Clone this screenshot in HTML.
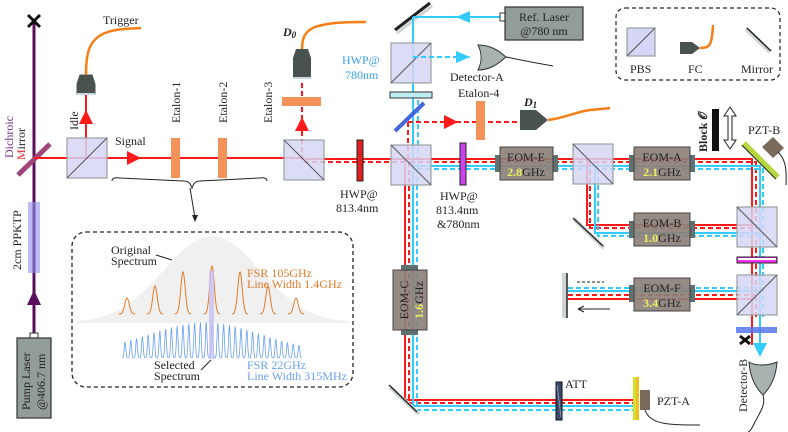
<!DOCTYPE html>
<html><head><meta charset="utf-8"><style>
html,body{margin:0;padding:0;background:#fff}
svg{display:block}
svg text{font-family:"Liberation Serif","DejaVu Serif",serif !important;font-size:12px;fill:#222}
</style></head><body>
<svg width="788" height="432" viewBox="0 0 788 432" xmlns="http://www.w3.org/2000/svg" font-family="Liberation Serif, serif">
<defs>
<g id="pbs"><rect x="0" y="0" width="40" height="40" fill="#d6d6f6" fill-opacity="0.85" stroke="#9aa0a0" stroke-width="1.2"/></g>
</defs>

<!-- inset spectrum box -->
<rect x="72" y="232" width="281" height="155" rx="14" fill="none" stroke="#222" stroke-width="1.3" stroke-dasharray="4,3"/>
<path id="gauss" fill="#eeeeee" opacity="0.9"/>
<path id="orange" fill="none" stroke="#e07a2a" stroke-width="1"/>
<path id="blue" fill="none" stroke="#6aa0f0" stroke-width="0.8"/>
<rect x="209" y="271" width="5" height="88" fill="#c8c0f4" opacity="0.8"/>
<text x="111" y="254" font-size="9.5">Original</text>
<text x="111" y="265" font-size="9.5">Spectrum</text>
<line x1="156" y1="255" x2="172" y2="260" stroke="#222" stroke-width="1"/>
<text x="247" y="277" font-size="9.5" style="fill:#e07a2a">FSR 105GHz</text>
<text x="247" y="288" font-size="9.5" style="fill:#e07a2a">Line Width 1.4GHz</text>
<text x="154" y="369" font-size="9.5">Selected</text>
<text x="154" y="380" font-size="9.5">Spectrum</text>
<line x1="201" y1="370" x2="211" y2="360" stroke="#222" stroke-width="1"/>
<text x="247" y="369" font-size="9.5" style="fill:#6aa0f0">FSR 22GHz</text>
<text x="247" y="380" font-size="9.5" style="fill:#6aa0f0">Line Width 315MHz</text>

<!-- brace -->
<path d="M112,181 q0,-4 8,-3 L184,181 q6,0 8,7 q2,-7 8,-7 L259,178 q8,-1 8,3" fill="none" stroke="#222" stroke-width="1"/>
<line x1="190" y1="188" x2="195" y2="218" stroke="#222" stroke-width="1"/>
<path d="M195,222 l-3,-7 l6,0z" fill="#222"/>

<!-- pump -->
<line x1="34" y1="20" x2="34" y2="338" stroke="#5a0f5e" stroke-width="3"/>
<rect x="28" y="202" width="12" height="71" fill="#8e8ef0" opacity="0.6"/>
<path d="M34,290 l-7,15 l14,0z" fill="#5a0f5e"/>
<rect x="30" y="333" width="8" height="5" fill="#fff" stroke="#333"/>
<rect x="17" y="338" width="34" height="80" fill="#929c98" stroke="#333" stroke-width="1.2"/>
<text transform="translate(30,410) rotate(-90)" font-size="12">Pump Laser</text>
<text transform="translate(45,410) rotate(-90)" font-size="12">@406.7 nm</text>
<text transform="translate(21,270) rotate(-90)" font-size="11">2cm PPKTP</text>
<path d="M28,15 l12,12 M40,15 l-12,12" stroke="#111" stroke-width="3"/>
<line x1="18" y1="175" x2="50" y2="144" stroke="#a0457a" stroke-width="5"/>
<text transform="translate(13,158) rotate(-90)" font-size="12"><tspan style="fill:#7a2a8a">Dichroic</tspan></text>
<text transform="translate(25,160) rotate(-90)" font-size="12"><tspan style="fill:#ee2222">M</tspan>irror</text>

<!-- main red signal line -->
<line x1="34" y1="158" x2="304" y2="158" stroke="#ff1a1a" stroke-width="2"/>
<line x1="304" y1="159" x2="410" y2="159" stroke="#ff1a1a" stroke-width="2"/>
<line x1="304" y1="162" x2="410" y2="162" stroke="#ff1a1a" stroke-width="2" stroke-dasharray="5,3"/>
<path d="M127,151 l14,7 l-14,7z" fill="#ff1a1a"/>
<text x="115" y="145" font-size="12">Signal</text>

<!-- idle -->
<line x1="86" y1="158" x2="86" y2="95" stroke="#ff1a1a" stroke-width="2"/>
<use href="#pbs" x="67" y="138"/>
<line x1="67" y1="178" x2="107" y2="138" stroke="#555" stroke-width="1"/>
<path d="M86,110 l-7,14 l14,0z" fill="#ff1a1a"/>
<path d="M80,75 L92,75 L95,84 L95,94 L77,94 L77,84z" fill="#4a5250" stroke="#4a5250"/>
<rect x="77" y="93" width="18" height="2" fill="#c8d8e0"/>
<path d="M86,75 C86,55 88,40 105,33 C118,28 130,29 141,28" fill="none" stroke="#f57f17" stroke-width="2.5"/>
<text x="103" y="24" font-size="12">Trigger</text>
<text transform="translate(78,130) rotate(-90)" font-size="12">Idle</text>

<rect x="171" y="138" width="9" height="40" fill="#f5925a"/>
<rect x="218" y="138" width="9" height="40" fill="#f5925a"/>
<text transform="translate(180,123) rotate(-90)" font-size="12">Etalon-1</text>
<text transform="translate(227,123) rotate(-90)" font-size="12">Etalon-2</text>
<text transform="translate(272,123) rotate(-90)" font-size="12">Etalon-3</text>

<!-- etalon-3 pbs -->
<line x1="302" y1="160" x2="302" y2="80" stroke="#ff1a1a" stroke-width="2" stroke-dasharray="5,3"/>
<use href="#pbs" x="284" y="140"/>
<line x1="284" y1="140" x2="324" y2="180" stroke="#555" stroke-width="1"/>
<path d="M302,117 l-7,14 l14,0z" fill="#ff1a1a"/>
<rect x="282" y="97" width="39" height="9" fill="#f5925a"/>
<path d="M296,49 L308,49 L311,58 L311,78 L293,78 L293,58z" fill="#4a5250"/>
<rect x="293" y="77" width="18" height="2" fill="#c8d8e0"/>
<path d="M302,49 C302,38 305,31 315,27 C330,22 350,22 366,22" fill="none" stroke="#f57f17" stroke-width="2.5"/>
<text x="283" y="36" font-size="13" font-weight="bold" font-style="italic">D<tspan font-size="9" dy="2">0</tspan></text>
<rect x="357" y="140" width="6" height="41" fill="#e02020" stroke="#222" stroke-width="1"/>
<text x="340" y="198" font-size="12">HWP@</text>
<text x="336" y="212" font-size="12">813.4nm</text>

<!-- ref laser -->
<line x1="395" y1="30" x2="430" y2="3" stroke="#222" stroke-width="3"/>
<line x1="397" y1="33" x2="432" y2="6" stroke="#cfd4d4" stroke-width="3"/>
<line x1="500" y1="17" x2="413" y2="17" stroke="#33ccff" stroke-width="2"/>
<line x1="413" y1="17" x2="413" y2="166" stroke="#33ccff" stroke-width="2"/>
<path d="M456,17 l14,-6 l0,12z" fill="#33ccff"/>
<rect x="500" y="13" width="5" height="8" fill="#fff" stroke="#333"/>
<rect x="505" y="7" width="78" height="33" fill="#929c98" stroke="#333" stroke-width="1.2"/>
<text x="544" y="21" font-size="12" text-anchor="middle">Ref. Laser</text>
<text x="544" y="35" font-size="12" text-anchor="middle">@780 nm</text>
<use href="#pbs" x="391" y="43"/>
<line x1="391" y1="83" x2="431" y2="43" stroke="#555" stroke-width="1"/>
<line x1="413" y1="57" x2="470" y2="57" stroke="#33ccff" stroke-width="2" stroke-dasharray="5,3"/>
<path d="M456,51 l14,6 l-14,6z" fill="#33ccff"/>
<path d="M478,45 C490,45 498,50 506,57 C498,64 490,70 478,70 C482,62 482,53 478,45z" fill="#a8b2b0" stroke="#333" stroke-width="1"/>
<path d="M506,57 C520,60 530,62 553,66" fill="none" stroke="#222" stroke-width="1"/>
<text x="450" y="81" font-size="12">Detector-A</text>
<rect x="390" y="92" width="42" height="6" fill="#bdeef6" stroke="#333" stroke-width="1"/>
<text x="342" y="64" font-size="12" style="fill:#3aa0ee">HWP@</text>
<text x="345" y="79" font-size="12" style="fill:#3aa0ee">780nm</text>

<!-- dichroic blue -->
<line x1="408" y1="122" x2="520" y2="122" stroke="#ff1a1a" stroke-width="2" stroke-dasharray="5,3"/>
<line x1="408" y1="122" x2="408" y2="162" stroke="#ff1a1a" stroke-width="2" stroke-dasharray="5,3"/>
<line x1="418" y1="100" x2="418" y2="169" stroke="#33ccff" stroke-width="2" stroke-dasharray="5,3"/>
<line x1="395" y1="131" x2="424" y2="103" stroke="#4466dd" stroke-width="4"/>
<path d="M444,115 l14,7 l-14,7z" fill="#ff1a1a"/>
<rect x="476" y="101" width="9" height="39" fill="#f5925a"/>
<text x="458" y="97" font-size="12">Etalon-4</text>
<path d="M520,110 L536,110 L548,120 L536,130 L520,130z" fill="#4a5250"/>
<path d="M548,120 C565,118 575,112 590,110 C598,109 605,109 610,108" fill="none" stroke="#f57f17" stroke-width="2.5"/>
<text x="524" y="106" font-size="13" font-weight="bold" font-style="italic">D<tspan font-size="9" dy="2">1</tspan></text>

<!-- legend -->
<rect x="616" y="8" width="164" height="72" rx="9" fill="none" stroke="#222" stroke-width="1.2" stroke-dasharray="4,3"/>
<rect x="627" y="28" width="28" height="28" fill="#d6d6f6" stroke="#9aa0a0" stroke-width="1.2"/>
<line x1="627" y1="56" x2="655" y2="28" stroke="#555" stroke-width="1"/>
<text x="630" y="73" font-size="12">PBS</text>
<path d="M680,42 L692,42 L700,48 L692,54 L680,54z" fill="#4a5250"/>
<path d="M700,48 C710,48 712,45 713,25" fill="none" stroke="#f57f17" stroke-width="2.5"/>
<text x="688" y="73" font-size="12">FC</text>
<line x1="746" y1="29" x2="770" y2="52" stroke="#cfd4d4" stroke-width="4"/>
<line x1="747" y1="28" x2="771" y2="51" stroke="#222" stroke-width="1.5"/>
<text x="741" y="73" font-size="12">Mirror</text>

<!-- beams -->
<g fill="none" stroke-width="2">
<path d="M392,159 H752 V345" stroke="#ff1a1a"/>
<path d="M410,162 H756 V320" stroke="#ff1a1a" stroke-dasharray="5,3"/>
<path d="M413,166 H760 V355" stroke="#33ccff"/>
<path d="M418,169 H763 V320" stroke="#33ccff" stroke-dasharray="5,3"/>
<path d="M405,159 V400 H635" stroke="#ff1a1a"/>
<path d="M409,162 V403 H635" stroke="#ff1a1a" stroke-dasharray="5,3"/>
<path d="M413,166 V406 H635" stroke="#33ccff"/>
<path d="M417,169 V410 H635" stroke="#33ccff" stroke-dasharray="5,3"/>
<path d="M587,159 V225 H752" stroke="#ff1a1a"/>
<path d="M590,162 V228 H756" stroke="#ff1a1a" stroke-dasharray="5,3"/>
<path d="M595,166 V233 H760" stroke="#33ccff"/>
<path d="M598,169 V236 H763" stroke="#33ccff" stroke-dasharray="5,3"/>
<path d="M568,288 H763" stroke="#33ccff" stroke-dasharray="5,3"/>
<path d="M568,291 H760" stroke="#33ccff"/>
<path d="M568,295 H756" stroke="#ff1a1a" stroke-dasharray="5,3"/>
<path d="M568,299 H752" stroke="#ff1a1a"/>
</g>

<!-- main PBS and HWP -->
<use href="#pbs" x="391" y="145"/>
<line x1="391" y1="145" x2="431" y2="185" stroke="#555" stroke-width="1"/>
<rect x="460" y="143" width="6" height="42" fill="#cc44ee" stroke="#222" stroke-width="1"/>
<text x="440" y="200" font-size="12">HWP@</text>
<text x="436" y="214" font-size="12">813.4nm</text>
<text x="437" y="228" font-size="12">&amp;780nm</text>

<!-- EOMs -->
<g font-size="12">
<rect x="495" y="155" width="6" height="17" fill="#5f7272"/><rect x="552" y="155" width="6" height="17" fill="#5f7272"/>
<rect x="500" y="147" width="53" height="33" fill="#8c8079" fill-opacity="0.92" stroke="#444"/>
<text x="526" y="161" text-anchor="middle">EOM-E</text>
<text x="526" y="176" text-anchor="middle"><tspan style="fill:#e8f060" font-weight="bold">2.8</tspan>GHz</text>

<rect x="629" y="155" width="6" height="17" fill="#5f7272"/><rect x="689" y="155" width="6" height="17" fill="#5f7272"/>
<rect x="634" y="147" width="56" height="33" fill="#8c8079" fill-opacity="0.92" stroke="#444"/>
<text x="662" y="161" text-anchor="middle">EOM-A</text>
<text x="662" y="176" text-anchor="middle"><tspan style="fill:#e8f060" font-weight="bold">2.1</tspan>GHz</text>

<rect x="629" y="221" width="6" height="17" fill="#5f7272"/><rect x="689" y="221" width="6" height="17" fill="#5f7272"/>
<rect x="634" y="213" width="56" height="33" fill="#8c8079" fill-opacity="0.92" stroke="#444"/>
<text x="662" y="227" text-anchor="middle">EOM-B</text>
<text x="662" y="242" text-anchor="middle"><tspan style="fill:#e8f060" font-weight="bold">1.0</tspan>GHz</text>

<rect x="629" y="285" width="6" height="17" fill="#5f7272"/><rect x="689" y="285" width="6" height="17" fill="#5f7272"/>
<rect x="634" y="278" width="56" height="33" fill="#8c8079" fill-opacity="0.92" stroke="#444"/>
<text x="662" y="292" text-anchor="middle">EOM-F</text>
<text x="662" y="307" text-anchor="middle"><tspan style="fill:#e8f060" font-weight="bold">3.4</tspan>GHz</text>

<rect x="401" y="265" width="17" height="6" fill="#5f7272"/><rect x="401" y="329" width="17" height="6" fill="#5f7272"/>
<rect x="393" y="270" width="34" height="60" fill="#8c8079" fill-opacity="0.92" stroke="#444"/>
<text transform="translate(408,300) rotate(-90)" text-anchor="middle">EOM-C</text>
<text transform="translate(423,300) rotate(-90)" text-anchor="middle"><tspan style="fill:#e8f060" font-weight="bold">1.6</tspan>GHz</text>
</g>

<!-- PBS2 -->
<use href="#pbs" x="573" y="144"/>
<line x1="573" y1="144" x2="613" y2="184" stroke="#555" stroke-width="1"/>
<line x1="574" y1="219" x2="604" y2="248" stroke="#cfd4d4" stroke-width="4"/>
<line x1="573" y1="218" x2="603" y2="246" stroke="#222" stroke-width="1.3"/>
<!-- right column -->
<use href="#pbs" x="737" y="207"/>
<line x1="737" y1="207" x2="777" y2="247" stroke="#555" stroke-width="1"/>
<rect x="737" y="257" width="40" height="6" fill="#ee33ee" stroke="#222" stroke-width="1"/>
<rect x="738" y="258" width="38" height="2" fill="#fff"/>
<use href="#pbs" x="737" y="275"/>
<line x1="737" y1="315" x2="777" y2="275" stroke="#555" stroke-width="1"/>
<rect x="736" y="327" width="41" height="6" fill="#5577ee" opacity="0.85"/>
<path d="M740,336 l10,8 M750,336 l-10,8" stroke="#111" stroke-width="3"/>
<path d="M753,343 l14,0 l-7,14z" fill="#33ccff"/>
<path d="M749,362 C755,366 768,366 777,362 C776,378 770,388 763,395 C756,388 750,378 749,362z" fill="#a8b2b0" stroke="#333" stroke-width="1"/>
<path d="M763,395 C766,405 760,412 755,422 C752,428 750,432 748,432" fill="none" stroke="#222" stroke-width="1"/>
<text transform="translate(747,412) rotate(-90)" font-size="12">Detector-B</text>

<!-- PZT-B -->
<line x1="742" y1="145" x2="776" y2="179" stroke="#222" stroke-width="1.5"/>
<line x1="744" y1="143" x2="778" y2="177" stroke="#b6d640" stroke-width="5"/>
<path d="M762,147 L773,137 L784,148 L773,158z" fill="#7a6a5c"/>
<path d="M778,152 C784,158 787,165 786,185" fill="none" stroke="#222" stroke-width="1"/>
<text x="748" y="134" font-size="12">PZT-B</text>
<rect x="712" y="109" width="7" height="42" fill="#111"/>
<path d="M730,107 l-6,9 h4 v24 h-4 l6,9 l6,-9 h-4 v-24 h4z" fill="#fff" stroke="#222" stroke-width="1"/>
<text transform="translate(707,152) rotate(-90)" font-size="12" font-weight="bold">Block 𝒪</text>

<!-- EOM-F mirror -->
<rect x="562" y="273" width="5" height="45" fill="#cfd4d4"/>
<line x1="567" y1="273" x2="567" y2="318" stroke="#222" stroke-width="1.5"/>
<line x1="577" y1="282" x2="604" y2="282" stroke="#222" stroke-width="1" stroke-dasharray="3,2"/>
<path d="M578,309 H610 M578,309 l6,-3 M578,309 l6,3" fill="none" stroke="#222" stroke-width="1"/>

<!-- bottom-left mirror -->
<line x1="390" y1="387" x2="419" y2="414" stroke="#cfd4d4" stroke-width="4"/>
<line x1="389" y1="385" x2="417" y2="412" stroke="#222" stroke-width="1.3"/>
<!-- ATT -->
<rect x="556" y="382" width="6" height="38" fill="#3a4a6a" stroke="#111"/>
<line x1="557" y1="385" x2="561" y2="417" stroke="#8899bb" stroke-width="1"/>
<text x="565" y="388" font-size="12">ATT</text>
<!-- PZT-A -->
<rect x="633" y="377" width="5" height="43" fill="#d4e030"/>
<rect x="636" y="377" width="3" height="43" fill="#f0c020"/>
<rect x="640" y="390" width="10" height="20" fill="#7a6a5c"/>
<text x="657" y="405" font-size="12">PZT-A</text>
<path d="M645,410 C650,425 670,425 700,425" fill="none" stroke="#222" stroke-width="1"/>
</svg>
<script>
(function(){
 var g='M77,323';
 for(var x=77;x<=350;x+=3){var y=323-87*Math.exp(-Math.pow((x-212)/48,2)/2);g+=' L'+x+','+y.toFixed(1);}
 g+=' L350,323 Z';document.getElementById('gauss').setAttribute('d',g);
 var pk=[[127,16],[155,28],[183,42],[212,48],[240,42],[268,28],[296,16]],o='';
 pk.forEach(function(p){o+='M'+(p[0]-8)+',314';for(var x=-8;x<=8;x+=0.5){var y=314-p[1]*Math.exp(-x*x/(2*5));o+=' L'+(p[0]+x)+','+y.toFixed(1);}});
 document.getElementById('orange').setAttribute('d',o);
 var b='';for(var c=125;c<=300;c+=5.8){var h=30*Math.exp(-Math.pow((c-205)/55,2)/2)+6;b+='M'+(c-2.9)+',358';for(var x=-2.9;x<=2.9;x+=0.5){var y=358-h*Math.exp(-x*x/1.2);b+=' L'+(c+x).toFixed(1)+','+y.toFixed(1);}}
 document.getElementById('blue').setAttribute('d',b);
})();
</script>
</body></html>
